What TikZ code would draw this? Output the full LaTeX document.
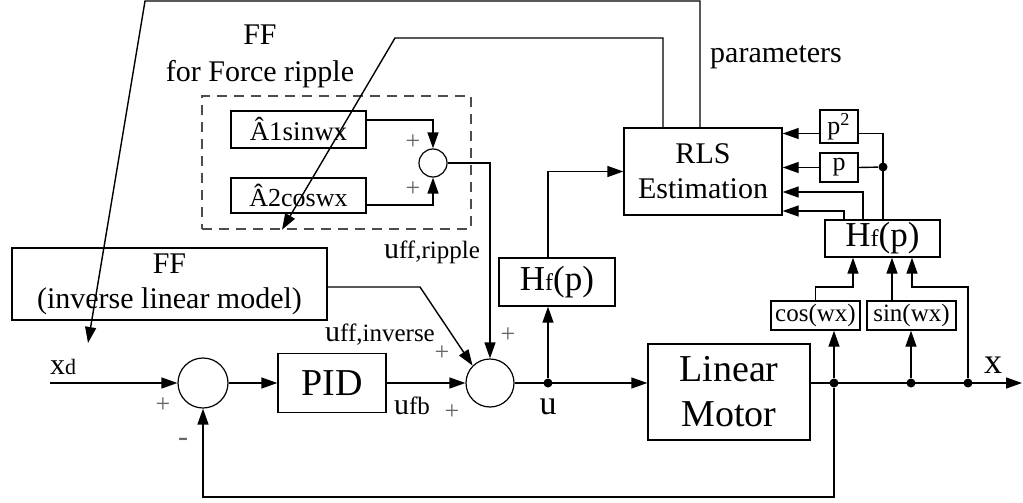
\documentclass[tikz,border=0pt]{standalone}
\usepackage{fontspec}
\setmainfont{Liberation Serif}
\usetikzlibrary{arrows.meta,positioning}

\newcommand{\fsz}[2]{\fontsize{#1}{#2}\selectfont}
\tikzset{
  blk/.style={draw,line width=0.7pt,inner sep=0pt,align=center},
  sumc/.style={draw,circle,line width=0.6pt,inner sep=0pt},
  wire/.style={line width=0.7pt},
  arr/.style={line width=0.7pt,-{Triangle[length=8pt,width=5.5pt]}},
  dotp/.style={circle,fill,inner sep=0pt,minimum size=4.5pt},
  plus/.style={text=black!60,inner sep=0pt,font=\fsz{13}{13}},
}

\begin{document}
\begin{tikzpicture}[x=0.5pt,y=-0.5pt]
\useasboundingbox (0,0) rectangle (1023,503);

\node[blk,minimum width=157.5pt,minimum height=36pt,font=\fsz{15}{17.5}] (ffl) at (169.5,284) {FF\\(inverse linear model)};
\node[draw,dashed,black!70,line width=0.7pt,dash pattern=on 5pt off 3.5pt,minimum width=134.5pt,minimum height=66.5pt] (ffr) at (336.5,162.5) {};
\node[align=center,inner sep=0pt,font=\fsz{15}{18.5}] (ffrt) at (260,56) {FF\\for Force ripple};
\node[blk,minimum width=67.5pt,minimum height=18.5pt,font=\fsz{13.5}{13.5}] (a1) at (298.5,129.5) {Â1sinwx};
\node[blk,minimum width=67.5pt,minimum height=17.5pt,font=\fsz{13}{13}] (a2) at (298.5,195.5) {Â2coswx};
\node[sumc,minimum size=14pt] (sumr) at (433,163) {};

\node[sumc,minimum size=25pt] (sum1) at (203,383) {};
\node[blk,minimum width=54pt,minimum height=29.5pt,font=\fsz{19}{19}] (pid) at (332,383) {PID};
\node[sumc,minimum size=24pt] (sum2) at (490,383) {};
\node[blk,minimum width=58pt,minimum height=24pt,font=\fsz{17.5}{17.5}] (hf1) at (557,282) {H{\fsz{12}{12}f}(p)};
\node[blk,minimum width=81pt,minimum height=48pt,font=\fsz{19}{22.5}] (motor) at (729,392) {Linear\\Motor};
\node[blk,minimum width=79pt,minimum height=43.5pt,font=\fsz{15}{17.5}] (rls) at (703,171.5) {RLS\\Estimation};
\node[blk,minimum width=19pt,minimum height=16.5pt,font=\fsz{13}{13}] (p2) at (839,126.5) {p\textsuperscript{2}};
\node[blk,minimum width=19pt,minimum height=14.5pt,font=\fsz{13}{13}] (p1) at (839,167.5) {p};
\node[blk,minimum width=57.5pt,minimum height=18.5pt,font=\fsz{17.5}{17.5}] (hf2) at (882.5,238.5) {H{\fsz{12}{12}f}(p)};
\node[blk,minimum width=44.5pt,minimum height=14.5pt,font=\fsz{12.5}{12.5}] (cosb) at (815.5,315.5) {cos(wx)};
\node[blk,minimum width=44.5pt,minimum height=14.5pt,font=\fsz{12.5}{12.5}] (sinb) at (911.5,315.5) {sin(wx)};

\node[dotp] (du) at (548,383) {};
\node[dotp] (d1) at (834,383) {};
\node[dotp] (d2) at (911,383) {};
\node[dotp] (d3) at (968,383) {};
\node[dotp] (dp) at (883,167) {};

\coordinate (xin) at (50,383);
\coordinate (xout) at (1022,383);
\coordinate (fbrow) at (0,497);
\coordinate (hfrow) at (0,287);
\coordinate (topl) at (145,1);
\coordinate (xdtip) at (88,343);
\coordinate (bendr) at (395,38);
\coordinate (ffbend) at (420,287);

\draw[arr] (xin) -- (sum1.west);
\draw[arr] (sum1.east) -- (pid.west);
\draw[arr] (pid.east) -- (sum2.west);
\draw[arr] (sum2.east) -- (sum2.east -| motor.west);
\draw[arr] (motor.east |- d1) -- (xout);
\draw[arr] (d1) -- (d1 |- fbrow) -| (sum1.south);

\draw[arr] (du) -- (du |- hf1.south);
\draw[arr] (du |- hf1.north) |- (rls.west);

\draw[arr] (d1) -- (d1 |- cosb.south);
\draw[arr] (d2) -- (d2 |- sinb.south);
\draw[arr] (cosb.north) |- ([xshift=-14.75pt]hf2.south |- hfrow) -- ([xshift=-14.75pt]hf2.south);
\draw[arr] ([xshift=4.75pt]hf2.south |- sinb.north) -- ([xshift=4.75pt]hf2.south);
\draw[arr] (d3) -- (d3 |- hfrow) -| ([xshift=14.75pt]hf2.south);

\draw[arr] ([xshift=-19.25pt]hf2.north) |- ([yshift=-19.75pt]rls.east);
\draw[arr] ([xshift=-9.75pt]hf2.north) |- ([yshift=-10.25pt]rls.east);
\draw[wire] (hf2.north -| dp) |- ([yshift=-3.5pt]p2.east);
\draw[wire] (dp) -- (p1.east);
\draw[arr] ([yshift=-3.5pt]p2.west) -- ([yshift=-3.5pt]p2.west -| rls.east);
\draw[arr] (p1.west) -- (p1.west -| rls.east);

\draw[arr] ([xshift=-1.5pt]rls.north) |- (topl) -- (xdtip);
\draw[arr] ([xshift=-20pt]rls.north) |- (bendr) -- ([xshift=-27.25pt]ffr.south);

\draw[arr] ([yshift=4.75pt]a1.east) -| (sumr.north);
\draw[arr] ([yshift=-4.75pt]a2.east) -| (sumr.south);
\draw[arr] (sumr.east) -| (sum2.north);
\draw[arr] (ffl.east |- ffbend) -- (ffbend) -- (sum2.north west);

\node[inner sep=0pt,font=\fsz{15}{15}] (par) at (776,57) {parameters};
\node[inner sep=0pt,font=\fsz{15}{15}] (lxd) at (63,367) {x{\fsz{11}{11}d}};
\node[inner sep=0pt,font=\fsz{17}{17}] (lu) at (548,407) {u};
\node[inner sep=0pt,font=\fsz{18}{18}] (lx) at (993,365) {x};
\node[inner sep=0pt,font=\fsz{15}{15}] (lrip) at (432,252) {u{\fsz{12.5}{12.5}ff,ripple}};
\node[inner sep=0pt,font=\fsz{15}{15}] (linv) at (380,335) {u{\fsz{12.5}{12.5}ff,inverse}};
\node[inner sep=0pt,font=\fsz{15}{15}] (lfb) at (412,406) {u{\fsz{12.5}{12.5}fb}};

\node[plus] (pl1) at (163,405) {+};
\node[plus,font=\fsz{15}{15}] (mi1) at (183,442) {-};
\node[plus] (pl2) at (442,353) {+};
\node[plus] (pl3) at (508,335) {+};
\node[plus] (pl4) at (452,412) {+};
\node[plus] (pl5) at (413,142) {+};
\node[plus] (pl6) at (413,189) {+};
\end{tikzpicture}
\end{document}
